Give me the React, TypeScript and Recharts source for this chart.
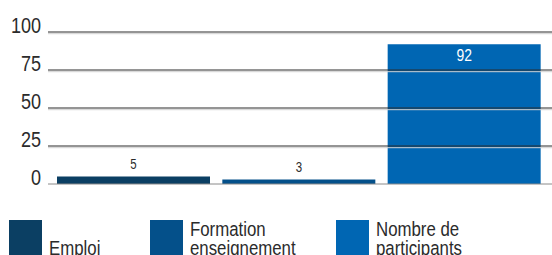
import { BarChart, Bar, XAxis, YAxis, ReferenceLine, Cell, LabelList } from "recharts";

// ─── data ─────────────────────────────────────────────────────────────────────
const categories = ["Emploi", "Formation enseignement", "Nombre de participants"];
const values     = [5, 3, 92];
const colors     = ["#0b3f63", "#04508a", "#0066b3"];
const yTicks     = [0, 25, 50, 75, 100];

// legend text lines (as printed)
const legendLines = [["Emploi"], ["Formation", "enseignement"], ["Nombre de", "participants"]];
const legendX     = [9, 150, 336];

// condensed look: Arial metrics squeezed horizontally
const FONT    = '"Liberation Sans", Arial, sans-serif';
const SQUEEZE = 0.82;
const TEXT    = "#2b2b2b";

const data = categories.map((name, i) => ({ name, value: values[i] }));

const YTick = ({ x, y, payload }: any) => (
  <text
    transform={`translate(${x + 1},${y + 1}) scale(${SQUEEZE},1)`}
    textAnchor="end" fontSize={22} fill={TEXT} fontFamily={FONT}
  >
    {payload.value}
  </text>
);

const ValueLabel = ({ x, y, width, value, index }: any) => {
  const inside = index === 2;
  return (
    <text
      transform={`translate(${x + width / 2},${inside ? y + 17 : y - 7}) scale(${SQUEEZE},1)`}
      textAnchor="middle"
      fontSize={inside ? 17 : 14}
      fill={inside ? "#fff" : TEXT}
      fontFamily={FONT}
    >
      {value}
    </text>
  );
};

// dark rule with a faint grey shadow just below, like the print
const GridRule = ({ x1, x2, y1, zero }: any) => (
  <g>
    {!zero && <line x1={x1} x2={x2} y1={y1 + 1.7} y2={y1 + 1.7} stroke="#d0d0d0" strokeWidth={1} />}
    <line x1={x1} x2={x2} y1={y1} y2={y1} stroke={zero ? "#8a8a8a" : "#2b2b2b"} strokeWidth={1} />
  </g>
);

export default function App() {
  return (
    <div style={{ position: "absolute", left: 0, top: 0, width: 552, height: 255, overflow: "hidden", background: "#fff", fontFamily: FONT }}>
      <BarChart
        width={552} height={200} data={data}
        margin={{ top: 32, right: 0, bottom: 16, left: 0 }}
      >
        <XAxis dataKey="name" hide padding={{ left: 3, right: 5 }} />
        <YAxis
          domain={[0, 100]} ticks={yTicks} width={48}
          axisLine={false} tickLine={false} tick={<YTick />}
        />
        <Bar dataKey="value" barSize={153} isAnimationActive={false}>
          {data.map((_, i) => <Cell key={i} fill={colors[i]} />)}
          <LabelList dataKey="value" content={<ValueLabel />} />
        </Bar>
        {yTicks.map((t) => (
          <ReferenceLine
            key={t} y={t}
            shape={(p: any) => <GridRule x1={p.x1} x2={p.x2} y1={p.y1} zero={t === 0} />}
          />
        ))}
      </BarChart>

      {/* legend */}
      {categories.map((c, i) => (
        <div key={c}>
          <div style={{ position: "absolute", left: legendX[i], top: 220, width: 33, height: 40, background: colors[i] }} />
          <div style={{
            position: "absolute", left: legendX[i] + 40, bottom: -2,
            fontSize: 20.5, lineHeight: "19px", color: TEXT, whiteSpace: "nowrap",
            transform: `scaleX(${SQUEEZE})`, transformOrigin: "left bottom",
          }}>
            {legendLines[i].map((l) => <div key={l}>{l}</div>)}
          </div>
        </div>
      ))}
    </div>
  );
}
